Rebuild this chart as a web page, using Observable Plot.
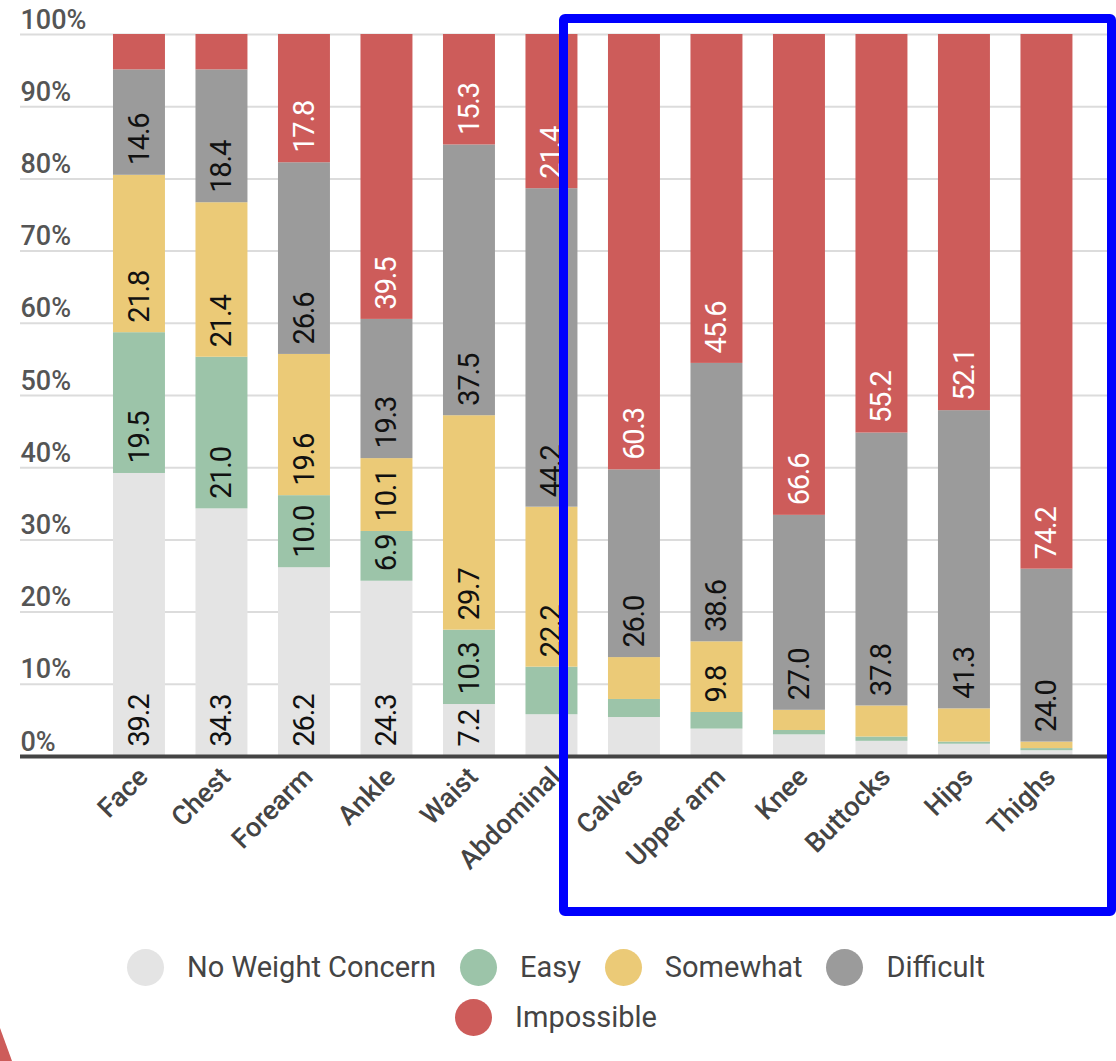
<!DOCTYPE html>
<html>
<head>
<meta charset="utf-8">
<script src="https://cdn.jsdelivr.net/npm/d3@7"></script>
<script src="https://cdn.jsdelivr.net/npm/@observablehq/plot@0.6"></script>
<style>
  html, body { margin: 0; padding: 0; background: #fff; }
  #page { position: relative; width: 1116px; height: 1061px; overflow: hidden; font-family: Roboto, sans-serif; }
  #chart svg text[transform*="rotate(-90)"] { letter-spacing: -1.2px; }
  .legend-row { position: absolute; left: 0; width: 1112px; display: flex; justify-content: center; align-items: center; }
  .item { display: flex; align-items: center; margin: 0 12px; }
  .dot { width: 37px; height: 37px; border-radius: 50%; margin-right: 23px; }
  .lbl { font-size: 29px; color: #444; font-weight: 400; }
  #box { position: absolute; left: 559px; top: 14px; width: 557px; height: 902px; border: 9px solid #0000fe; box-sizing: border-box; border-radius: 6px; pointer-events: none; }
</style>
</head>
<body>
<div id="page">
  <div id="chart"></div>
  <div id="legend"></div>
  <div id="box"></div>
  <svg style="position:absolute;left:0;top:1020px" width="20" height="41"><polygon points="0,8 12,41 0,41" fill="#cd5c5a"/></svg>
</div>
<script>
const categories = ["Face","Chest","Forearm","Ankle","Waist","Abdominal","Calves","Upper arm","Knee","Buttocks","Hips","Thighs"];
const seriesNames = ["No Weight Concern","Easy","Somewhat","Difficult","Impossible"];
const noWeightConcern = [39.2,34.3,26.2,24.3,7.2,5.8,5.4,3.8,3.0,2.1,1.7,0.8];
const easy            = [19.5,21.0,10.0,6.9,10.3,6.6,2.5,2.3,0.6,0.6,0.3,0.3];
const somewhat        = [21.8,21.4,19.6,10.1,29.7,22.2,5.8,9.8,2.8,4.3,4.6,0.9];
const difficult       = [14.6,18.4,26.6,19.3,37.5,44.2,26.0,38.6,27.0,37.8,41.3,24.0];
const impossible      = [4.9,4.9,17.8,39.5,15.3,21.4,60.3,45.6,66.6,55.2,52.1,74.2];
const seriesColors = ["#e4e4e4","#9cc4a9","#ebca77","#9b9b9b","#cd5c5a"];
const yTicks = [0,10,20,30,40,50,60,70,80,90,100];

const seriesValues = [noWeightConcern, easy, somewhat, difficult, impossible];
const data = [];
categories.forEach((c, i) => {
  seriesNames.forEach((s, j) => data.push({cat: c, series: s, value: seriesValues[j][i]}));
});

const stackOpts = {x: "cat", y: "value", z: "series", order: seriesNames, offset: "normalize"};

const chart = Plot.plot({
  width: 1116,
  height: 920,
  marginLeft: 20,
  marginRight: 0,
  marginTop: 34,
  marginBottom: 164,
  style: {fontFamily: "Roboto, sans-serif", background: "white", overflow: "visible"},
  x: {domain: categories, paddingInner: 0.37, paddingOuter: 0.8275, align: 0.681, round: false, axis: null},
  y: {domain: [0, 1], axis: null},
  color: {domain: seriesNames, range: seriesColors},
  marks: [
    Plot.ruleY(yTicks, {y: d => d / 100, stroke: "#dcdcdc", strokeWidth: 2}),
    Plot.text(yTicks, {y: d => d / 100, text: d => d + "%", frameAnchor: "left", textAnchor: "start", lineAnchor: "bottom", dx: 0, dy: -6, fontSize: 27, fontWeight: 500, fill: "#555"}),
    Plot.barY(data, {...stackOpts, fill: "series"}),
    Plot.text(data, Plot.stackY1({...stackOpts,
      text: d => d.value >= 6.8 ? d.value.toFixed(1) : "",
      rotate: -90, textAnchor: "start", dy: -10, fontSize: 29,
      fill: d => d.series === "Impossible" ? "white" : "#111"})),
    Plot.ruleY([0], {stroke: "#444", strokeWidth: 4}),
    Plot.text(categories, {x: d => d, text: d => d, frameAnchor: "bottom", textAnchor: "end", rotate: -45, dx: 10, dy: 22, fontSize: 27, fontWeight: 500, fill: "#444"})
  ]
});
document.getElementById("chart").appendChild(chart);

const legend = document.getElementById("legend");
const rows = [[0,1,2,3],[4]];
const rowTops = [947, 997];
rows.forEach((r, k) => {
  const row = document.createElement("div");
  row.className = "legend-row";
  row.style.top = rowTops[k] + "px";
  row.style.height = "40px";
  r.forEach(j => {
    const it = document.createElement("div");
    it.className = "item";
    const dot = document.createElement("div");
    dot.className = "dot";
    dot.style.background = seriesColors[j];
    const lbl = document.createElement("span");
    lbl.className = "lbl";
    lbl.textContent = seriesNames[j];
    it.appendChild(dot); it.appendChild(lbl);
    row.appendChild(it);
  });
  legend.appendChild(row);
});
</script>
</body>
</html>
